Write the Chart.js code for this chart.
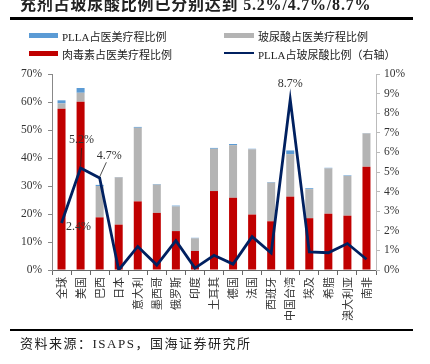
<!DOCTYPE html>
<html>
<head>
<meta charset="utf-8">
<script src="https://cdn.jsdelivr.net/npm/chart.js@4"></script>
<style>
  body { margin: 0; background: #fff; }
  #wrap { position: relative; width: 430px; height: 364px; overflow: hidden; }
  #c { position: absolute; left: 0; top: 0; }
  .t { position: absolute; font-family: "Liberation Serif", "Noto Sans CJK SC", serif; color: #222; white-space: nowrap; }
  .title { left: 20px; top: -9px; font-size: 16px; font-weight: bold; letter-spacing: 0.8px; }
  .rule { position: absolute; left: 10px; width: 403px; background: #000; }
  .lg { font-size: 11px; }
  .sw { position: absolute; }
  .src { left: 20px; top: 333px; font-size: 13px; letter-spacing: 1.5px; }
</style>
</head>
<body>
<div id="wrap">
  <canvas id="c" width="430" height="364"></canvas>
  <div class="t title">充剂占玻尿酸比例已分别达到 5.2%/4.7%/8.7%</div>
  <div class="rule" style="top:17px;height:3px"></div>

  <div class="sw" style="left:29px;top:33px;width:29px;height:5px;background:#5b9bd5"></div>
  <div class="t lg" style="left:62px;top:28px">PLLA占医美疗程比例</div>
  <div class="sw" style="left:224px;top:33px;width:30px;height:5px;background:#b4b4b4"></div>
  <div class="t lg" style="left:258px;top:28px">玻尿酸占医美疗程比例</div>
  <div class="sw" style="left:29px;top:51px;width:29px;height:5px;background:#c00000"></div>
  <div class="t lg" style="left:62px;top:46px">肉毒素占医美疗程比例</div>
  <div class="sw" style="left:224px;top:52px;width:30px;height:2px;background:#002060"></div>
  <div class="t lg" style="left:258px;top:46px">PLLA占玻尿酸比例（右轴）</div>

  <div class="rule" style="top:329px;height:2px"></div>
  <div class="t src">资料来源：ISAPS，国海证券研究所</div>
</div>
<script>
var categories = ['全球','美国','巴西','日本','意大利','墨西哥','俄罗斯','印度','土耳其','德国','法国','西班牙','中国台湾','埃及','希腊','澳大利亚','南非'];
var botox = [57.6,60.1,18.8,16.2,24.5,20.4,13.9,6.8,28.2,25.8,19.8,17.4,26.2,18.5,20.1,19.4,36.9];
var hyaluronic = [1.9,3.2,11.2,16.9,26.3,10.1,8.8,4.5,15.1,18.8,23.3,13.8,15.2,10.4,16.2,14.2,11.9];
var plla = [1.1,1.7,0.4,0.1,0.3,0.2,0.3,0.2,0.3,0.4,0.2,0.2,1.3,0.3,0.2,0.2,0.1];
var pllaShare = [2.4,5.2,4.7,0.0,1.2,0.25,1.5,0.1,0.75,0.3,1.7,0.87,8.7,0.92,0.88,1.35,0.55];
var leftTicks = [0,10,20,30,40,50,60,70];
var rightTicks = [0,1,2,3,4,5,6,7,8,9,10];

var serif = '"Liberation Serif", "Noto Sans CJK SC", serif';

// callouts on the line: [index, dx, dy, leader]
var callouts = [
  [0, 17, 4, null],
  [1, 1, -28, [1, -20, 0, -2]],
  [2, 9.5, -22, [6.7, -15.6, 0, -1]],
  [12, 0, -16, null]
];

var calloutPlugin = {
  id: 'callouts',
  afterDatasetsDraw: function(chart) {
    var meta = chart.getDatasetMeta(3);
    var ctx = chart.ctx;
    ctx.save();
    ctx.font = '12px ' + serif;
    ctx.fillStyle = '#333';
    ctx.textAlign = 'center';
    ctx.textBaseline = 'middle';
    callouts.forEach(function(c) {
      var p = meta.data[c[0]];
      ctx.fillText(pllaShare[c[0]].toFixed(1) + '%', p.x + c[1], p.y + c[2]);
      if (c[3]) {
        ctx.strokeStyle = '#222';
        ctx.lineWidth = 0.8;
        ctx.beginPath();
        ctx.moveTo(p.x + c[3][0], p.y + c[3][1]);
        ctx.lineTo(p.x + c[3][2], p.y + c[3][3]);
        ctx.stroke();
      }
    });
    ctx.restore();
  }
};

var ctx = document.getElementById('c');
var myChart = new Chart(ctx, {
  type: 'bar',
  data: {
    labels: categories,
    datasets: [
      { label: '肉毒素占医美疗程比例', data: botox, backgroundColor: '#c00000', yAxisID: 'y', order: 2 },
      { label: '玻尿酸占医美疗程比例', data: hyaluronic, backgroundColor: '#b4b4b4', yAxisID: 'y', order: 2 },
      { label: 'PLLA占医美疗程比例', data: plla, backgroundColor: '#5b9bd5', yAxisID: 'y', order: 2 },
      { type: 'line', label: 'PLLA占玻尿酸比例（右轴）', data: pllaShare, yAxisID: 'y1',
        borderColor: '#002060', borderWidth: 2.8, pointRadius: 0, tension: 0, fill: false, order: 1 }
    ]
  },
  options: {
    responsive: false,
    animation: false,
    devicePixelRatio: 1,
    layout: { padding: { top: 74, left: 0, right: 0, bottom: 0 } },
    datasets: { bar: { barPercentage: 0.42, categoryPercentage: 1 } },
    plugins: { legend: { display: false }, tooltip: { enabled: false } },
    scales: {
      x: {
        stacked: true,
        afterFit: function(s) { s.height = 94; },
        grid: { drawOnChartArea: false, offset: true, tickLength: 5, color: '#666' },
        border: { color: '#666' },
        ticks: { minRotation: 90, maxRotation: 90, padding: 2, autoSkip: false,
                 font: { family: '"Noto Sans CJK SC"', size: 11 }, color: '#333' }
      },
      y: {
        stacked: true, position: 'left', min: 0, max: 70,
        afterFit: function(s) { s.width = 52; },
        afterBuildTicks: function(s) { s.ticks = leftTicks.map(function(v) { return { value: v }; }); },
        grid: { drawOnChartArea: false, tickLength: 4, color: '#888' },
        border: { color: '#888' },
        ticks: { padding: 6, callback: function(v) { return v + '%'; },
                 font: { family: serif, size: 11.5 }, color: '#333' }
      },
      y1: {
        position: 'right', min: 0, max: 10,
        afterFit: function(s) { s.width = 54; },
        afterBuildTicks: function(s) { s.ticks = rightTicks.map(function(v) { return { value: v }; }); },
        grid: { drawOnChartArea: false, tickLength: 4, color: '#bbb' },
        border: { color: '#bbb' },
        ticks: { padding: 4, callback: function(v) { return v + '%'; },
                 font: { family: serif, size: 11.5 }, color: '#333' }
      }
    }
  },
  plugins: [calloutPlugin]
});
</script>
</body>
</html>
